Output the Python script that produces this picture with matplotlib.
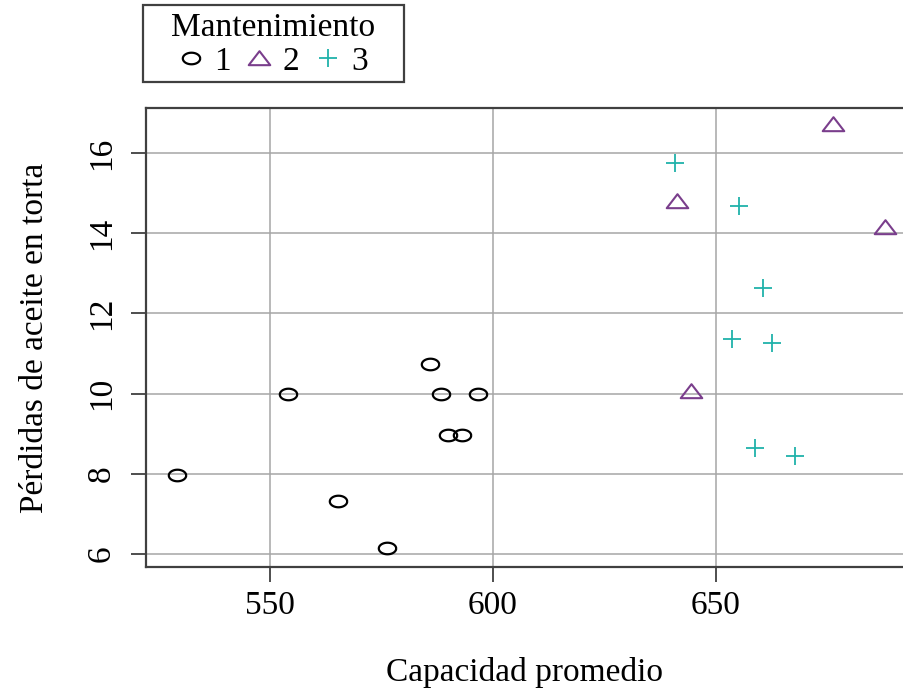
import matplotlib
matplotlib.use('Agg')
import matplotlib.pyplot as plt
from matplotlib.path import Path
from matplotlib.patches import Rectangle
import numpy as np

plt.rcParams['font.family'] = ['Liberation Serif', 'DejaVu Serif']

# mantenimiento 1
cap_1 = [529.1, 554.0, 565.4, 576.3, 585.9, 588.5, 590.0, 593.2, 596.7]
perd_1 = [7.96, 10.0, 7.31, 6.15, 10.75, 10.0, 8.96, 8.96, 10.0]
# mantenimiento 2
cap_2 = [676.3, 641.4, 688.0, 644.4]
perd_2 = [16.72, 14.8, 14.15, 10.07]
# mantenimiento 3
cap_3 = [640.8, 655.2, 660.6, 653.7, 662.5, 658.9, 667.8]
perd_3 = [15.75, 14.69, 12.64, 11.36, 11.26, 8.65, 8.44]

x_ticks = [550, 600, 650]
y_ticks = [6, 8, 10, 12, 14, 16]
niveles = ['1', '2', '3']
COLORS = ['black', '#7a3e8c', '#20b2aa']
FS = 24

# markers a bit wider than tall, like the original
t = np.linspace(0, 2 * np.pi, 60)
ellipse = Path(np.column_stack([1.5 * np.cos(t), np.sin(t)]))
triangle = Path([(-1, -0.62), (1, -0.62), (0, 0.68), (-1, -0.62)], closed=True)

fig = plt.figure(figsize=(9.04, 6.92), dpi=100)
ax = fig.add_axes([145.8 / 904, 1 - 566.7 / 692, 1 - 145.8 / 904, (566.7 - 108.3) / 692])

ax.grid(True, color='#a6a6a6', linewidth=1.1)
ax.set_axisbelow(True)

ax.plot(cap_1, perd_1, linestyle='none', marker=ellipse, markersize=12.5,
        markerfacecolor='none', markeredgecolor=COLORS[0], markeredgewidth=1.6, label=niveles[0])
ax.plot(cap_2, perd_2, linestyle='none', marker=triangle, markersize=15.5,
        markerfacecolor='none', markeredgecolor=COLORS[1], markeredgewidth=1.5, label=niveles[1])
ax.plot(cap_3, perd_3, linestyle='none', marker='+', markersize=13.5,
        markeredgecolor=COLORS[2], markeredgewidth=1.3, label=niveles[2])

ax.set_xlim(522.2, 692.2)
ax.set_ylim(5.68, 17.12)
ax.set_xticks(x_ticks)
ax.set_yticks(y_ticks)
ax.tick_params(axis='both', direction='out', length=11, width=1.3, color='#404040', labelsize=FS)
ax.tick_params(axis='y', labelrotation=90, pad=10)
ax.tick_params(axis='x', pad=6)
for lbl in ax.get_yticklabels():
    lbl.set_verticalalignment('center')

for s in ['left', 'bottom', 'top']:
    ax.spines[s].set_color('#404040')
    ax.spines[s].set_linewidth(1.6)
ax.spines['right'].set_visible(False)

ax.set_xlabel('Capacidad promedio', fontsize=FS, labelpad=26)
ax.set_ylabel('Pérdidas de aceite en torta', fontsize=FS, labelpad=26)

# legend entries compact and centred, frame drawn separately (wider box as in R)
leg = fig.legend(loc='upper center', bbox_to_anchor=(273.5 / 904, 1 - 6 / 692), ncol=3,
                 title='Mantenimiento', fontsize=FS, title_fontsize=FS,
                 handlelength=0.7, handletextpad=0.35, columnspacing=0.5,
                 borderpad=0.2, labelspacing=0.1, borderaxespad=0, frameon=False)
fig.patches.append(Rectangle((143 / 904, 1 - 82 / 692), 261 / 904, 77 / 692,
                             transform=fig.transFigure, fill=False,
                             edgecolor='#404040', linewidth=1.6))

fig.savefig('out.png', dpi=100)
